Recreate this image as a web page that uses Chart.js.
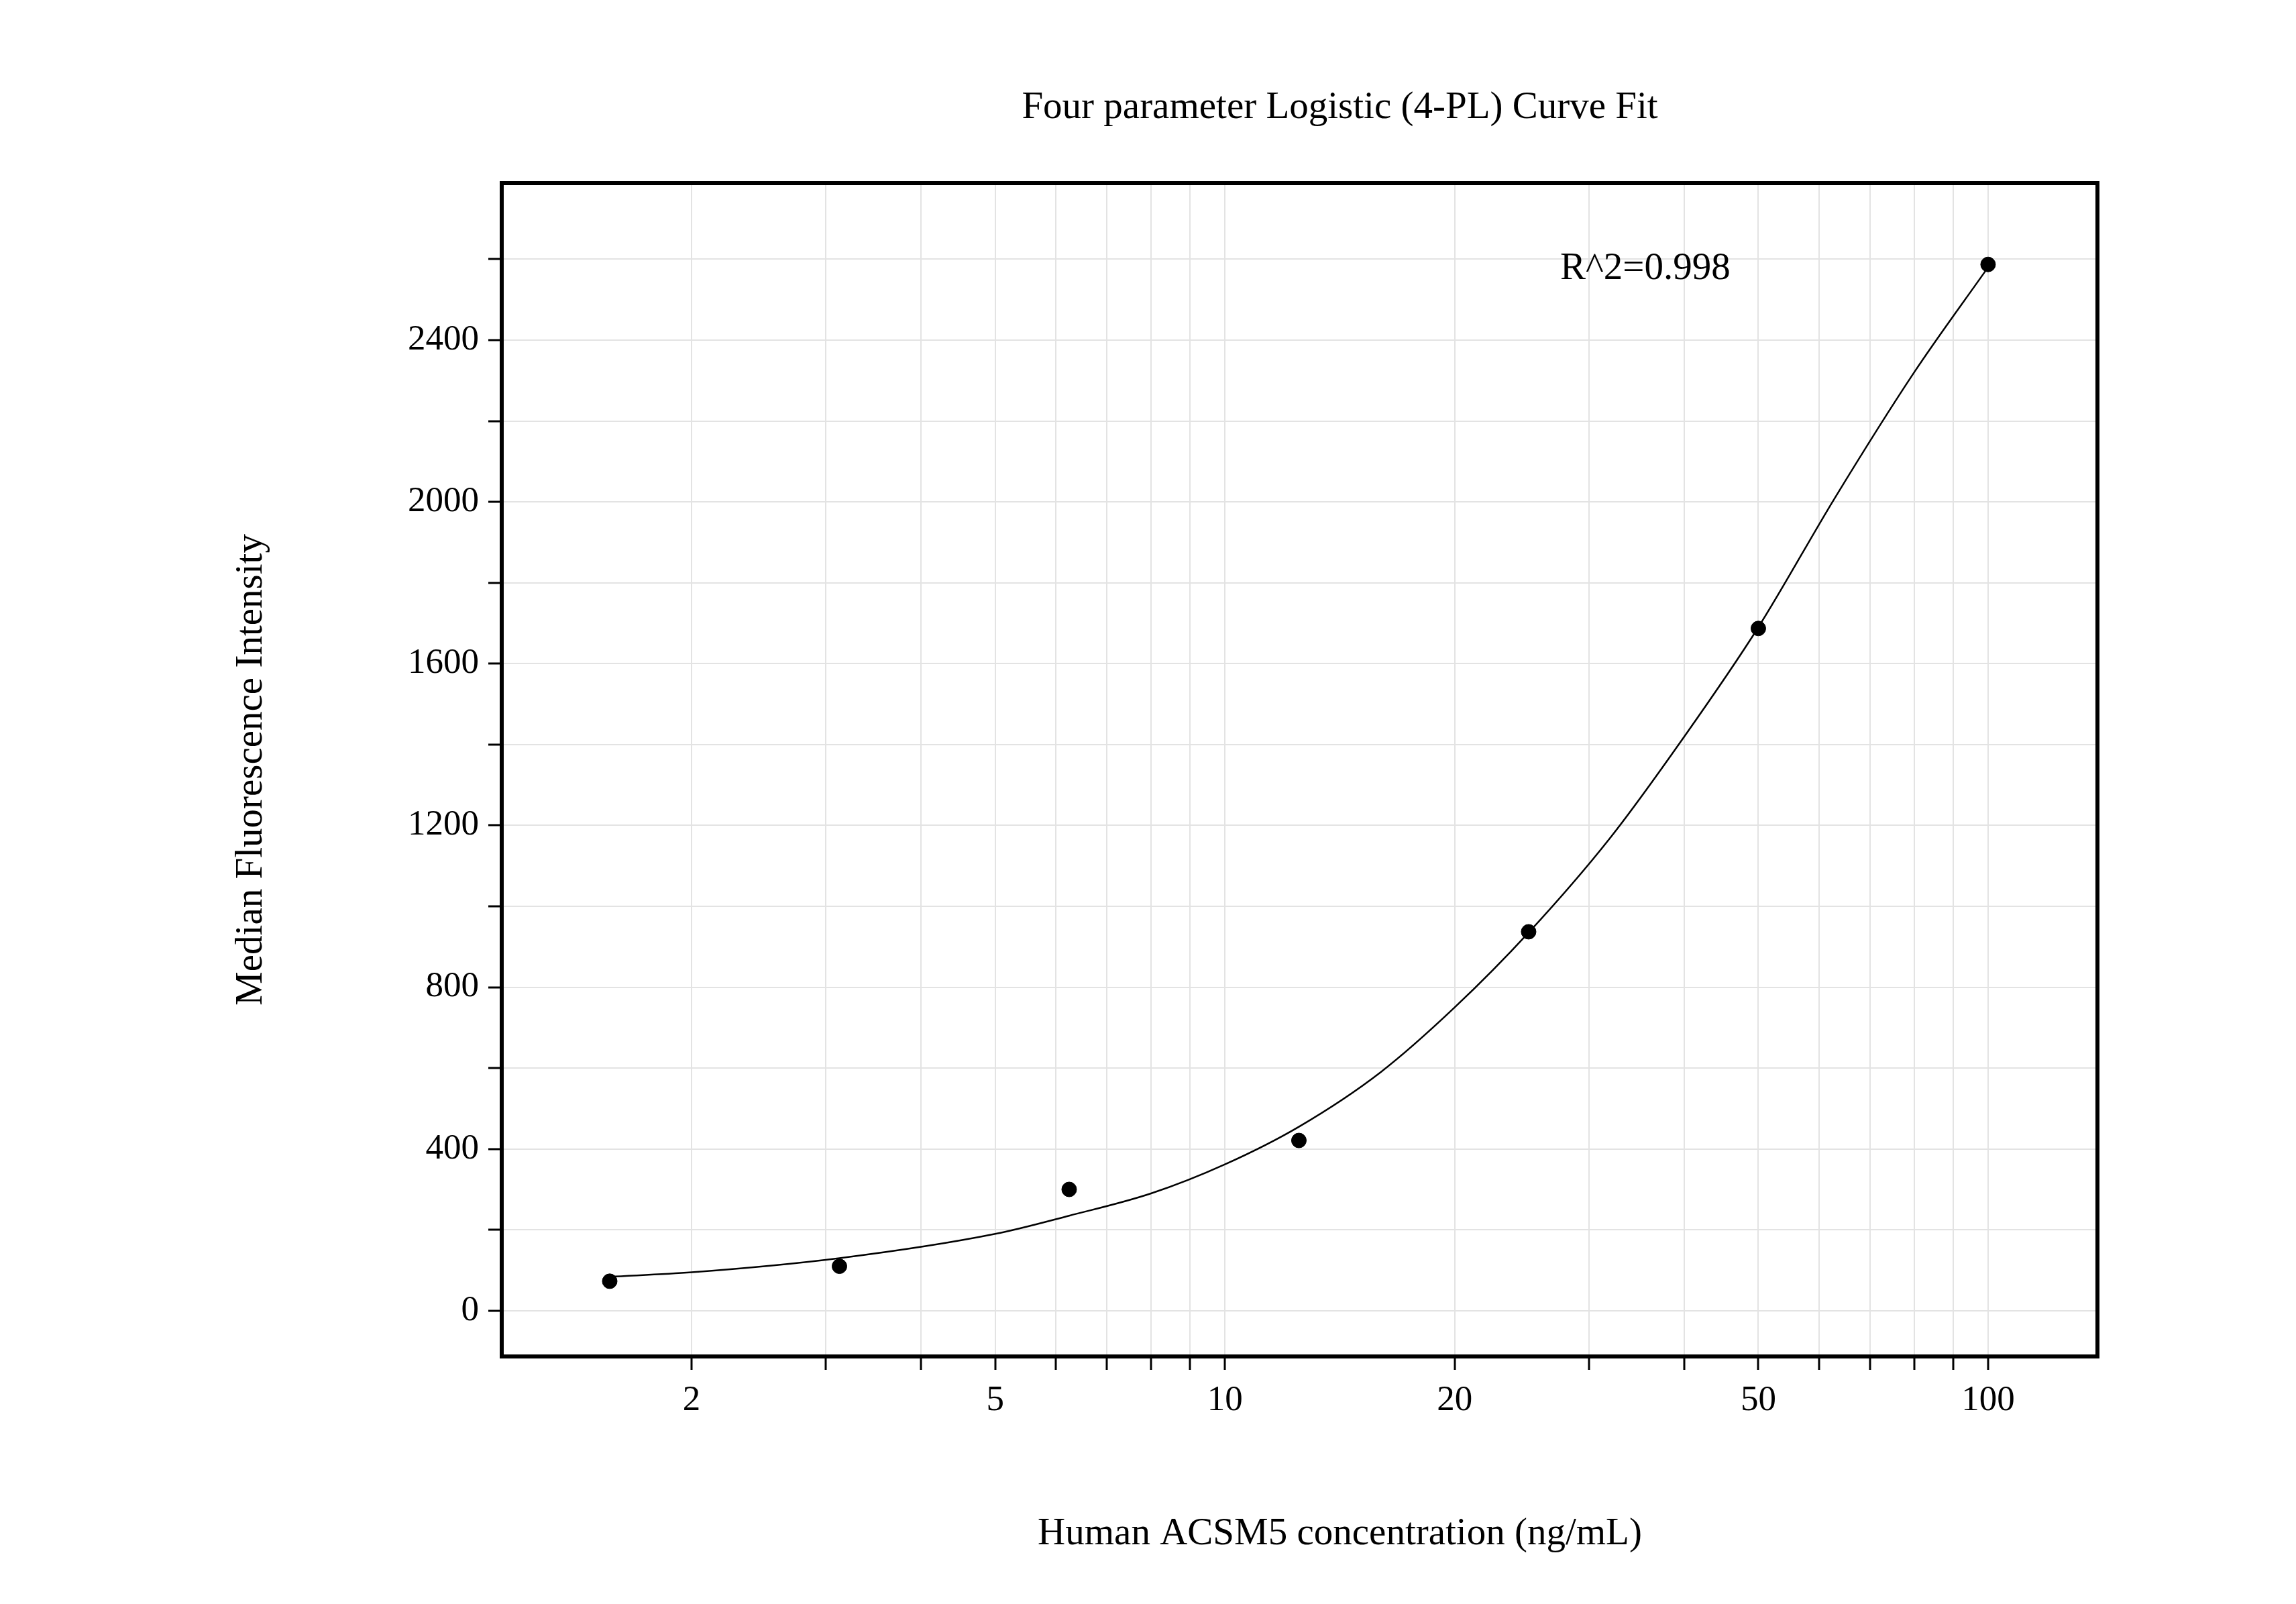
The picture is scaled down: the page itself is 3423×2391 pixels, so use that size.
<!DOCTYPE html>
<html>
<head>
<meta charset="utf-8">
<script src="https://cdn.jsdelivr.net/npm/chart.js@4.4.1/dist/chart.umd.min.js"></script>
<style>
  html, body { margin: 0; padding: 0; background: #fff; }
</style>
</head>
<body>
<canvas id="chart" width="3423" height="2391" style="width:3423px;height:2391px"></canvas>
<script>
// measured standards
const concentrations = [1.5625, 3.125, 6.25, 12.5, 25, 50, 100];
const mfiValues = [73, 110, 300, 421, 937, 1687, 2587];

// fitted 4-PL curve
const curveX = [1.5625, 2, 3.125, 5, 6.25, 8, 10, 12.5, 16, 20, 25, 32, 40, 50, 63, 80, 100];
const curveY = [84, 95, 130, 190, 235, 290, 362, 455, 590, 750, 935, 1170, 1420, 1690, 2010, 2320, 2580];

const xTickValues = [2, 3, 4, 5, 6, 7, 8, 9, 10, 20, 30, 40, 50, 60, 70, 80, 90, 100];
const xTickLabels = [2, 5, 10, 20, 50, 100];
const yTickValues = [0, 200, 400, 600, 800, 1000, 1200, 1400, 1600, 1800, 2000, 2200, 2400, 2600];
const yLabelStep = 400;

const FONT = '"Liberation Serif", "Times New Roman", serif';

const textPlugin = {
    id: 'texts',
    afterDraw(chart) {
        const ctx = chart.ctx;
        const area = chart.chartArea;
        ctx.save();
        ctx.strokeStyle = '#000';
        ctx.lineWidth = 6;
        ctx.strokeRect(area.left, area.top, area.right - area.left, area.bottom - area.top);

        ctx.fillStyle = '#000';
        ctx.textAlign = 'center';
        ctx.textBaseline = 'middle';
        ctx.font = `57px ${FONT}`;
        ctx.fillText('Four parameter Logistic (4-PL) Curve Fit', (area.left + area.right) / 2 + 60, 161);
        ctx.fillText('Human ACSM5 concentration (ng/mL)', (area.left + area.right) / 2 + 60, 2287);

        ctx.translate(375, (area.top + area.bottom) / 2);
        ctx.rotate(-Math.PI / 2);
        ctx.fillText('Median Fluorescence Intensity', 0, 0);
        ctx.restore();

        ctx.save();
        ctx.fillStyle = '#000';
        ctx.font = `57px ${FONT}`;
        ctx.textAlign = 'left';
        ctx.textBaseline = 'middle';
        ctx.fillText('R^2=0.998', 2326, 401);
        ctx.restore();
    }
};

new Chart(document.getElementById('chart').getContext('2d'), {
    type: 'scatter',
    data: {
        datasets: [
            {
                type: 'line',
                data: curveX.map((x, i) => ({ x: x, y: curveY[i] })),
                borderColor: '#000',
                borderWidth: 2.5,
                pointRadius: 0,
                cubicInterpolationMode: 'monotone'
            },
            {
                data: concentrations.map((x, i) => ({ x: x, y: mfiValues[i] })),
                backgroundColor: '#000',
                borderColor: '#000',
                pointRadius: 11
            }
        ]
    },
    options: {
        responsive: false,
        animation: false,
        devicePixelRatio: 1,
        layout: { padding: { top: 273, right: 296, left: 0, bottom: 0 } },
        plugins: { legend: { display: false }, tooltip: { enabled: false } },
        scales: {
            x: {
                type: 'logarithmic',
                min: 1.128,
                max: 139.1,
                afterBuildTicks(scale) {
                    scale.ticks = xTickValues.map(v => ({ value: v }));
                },
                afterFit(scale) { scale.height = 369; },
                grid: { color: '#e3e3e3', lineWidth: 2, tickColor: '#000', tickLength: 20, tickWidth: 3 },
                border: { display: false },
                ticks: {
                    color: '#000',
                    font: { family: FONT, size: 53 },
                    padding: 14,
                    maxRotation: 0,
                    autoSkip: false,
                    callback: v => xTickLabels.includes(v) ? String(v) : ''
                }
            },
            y: {
                min: -113,
                max: 2788,
                afterBuildTicks(scale) {
                    scale.ticks = yTickValues.map(v => ({ value: v }));
                },
                afterFit(scale) { scale.width = 748; },
                grid: { color: '#e3e3e3', lineWidth: 2, tickColor: '#000', tickLength: 20, tickWidth: 3 },
                border: { display: false },
                ticks: {
                    color: '#000',
                    font: { family: FONT, size: 53 },
                    padding: 14,
                    autoSkip: false,
                    callback: v => v % yLabelStep === 0 ? String(v) : ''
                }
            }
        }
    },
    plugins: [textPlugin]
});
</script>
</body>
</html>
